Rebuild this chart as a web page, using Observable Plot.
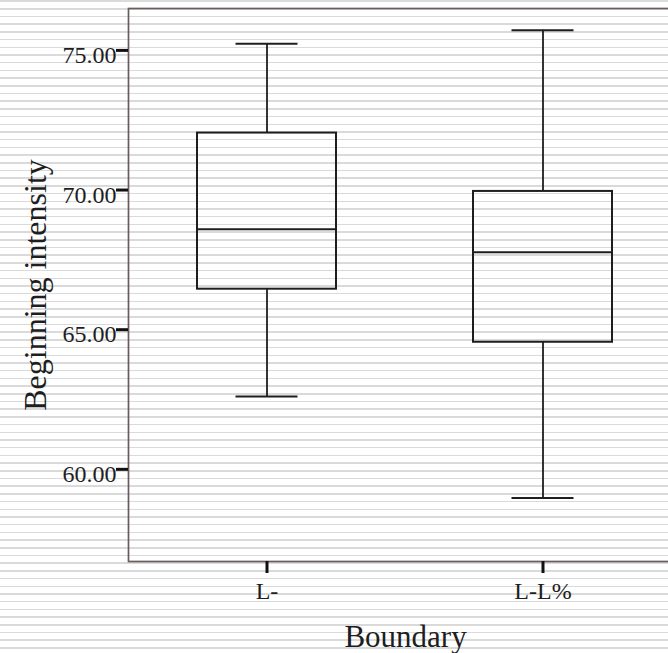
<!DOCTYPE html>
<html>
<head>
<meta charset="utf-8">
<script src="https://cdn.jsdelivr.net/npm/d3@7"></script>
<script src="https://cdn.jsdelivr.net/npm/@observablehq/plot@0.6"></script>
<style>
  html, body { margin: 0; padding: 0; overflow: hidden; }
  body {
    width: 668px; height: 653px;
    background: repeating-linear-gradient(to bottom,
      #ffffff 0px, #ffffff 0.4px,
      #dadada 0.4px, #dadada 1.9px,
      #ffffff 1.9px, #ffffff 7.7px);
  }
  #chart svg { max-width: none !important; font-family: "Liberation Serif", serif !important; }
  #chart svg text { font-family: "Liberation Serif", serif !important; }
</style>
</head>
<body>
<div id="chart"></div>
<script>
const categories = ["L-", "L-L%"];
const minVals    = [62.61, 58.97];
const q1Vals     = [66.45, 64.55];
const medianVals = [68.60, 67.77];
const q3Vals     = [72.04, 69.95];
const maxVals    = [75.24, 75.72];
const yTicks     = [60, 65, 70, 75];

const data = categories.map((c, i) => ({
  c, min: minVals[i], q1: q1Vals[i], med: medianVals[i], q3: q3Vals[i], max: maxVals[i]
}));

const ink = "#1e1e1e";

const chart = Plot.plot({
  width: 684,
  height: 653,
  marginLeft: 128,
  marginRight: 2,
  marginTop: 8,
  marginBottom: 92,
  style: {
    background: "transparent",
    fontFamily: "Liberation Serif",
    fontSize: "24px",
    color: ink,
    overflow: "visible",
    maxWidth: "none"
  },
  x: { type: "band", domain: categories, range: [129, 681], paddingInner: 0.496, paddingOuter: 0.248 },
  y: { domain: [56.7, 76.5] },
  marks: [
    Plot.frame({ stroke: "#6b5c5c", strokeWidth: 1.7 }),
    // y tick marks (no labels)
    Plot.axisY({ ticks: yTicks, tickFormat: () => "", tickSize: 12, tickPadding: 0,
                 stroke: "#111", strokeWidth: 3, label: null }),
    // y tick labels (shifted down slightly, like the reference)
    Plot.axisY({ ticks: yTicks, tickFormat: d3.format(".2f"), tickSize: 0, tickPadding: 12,
                 dy: 5, label: null, fontSize: 24 }),
    Plot.axisX({ tickSize: 12, tickPadding: 8, stroke: "#111", strokeWidth: 3, label: null, fontSize: 24 }),
    // whiskers
    Plot.ruleX(data, { x: "c", y1: "q3", y2: "max", stroke: ink, strokeWidth: 1.8 }),
    Plot.ruleX(data, { x: "c", y1: "min", y2: "q1", stroke: ink, strokeWidth: 1.8 }),
    // caps
    Plot.tickY(data, { x: "c", y: "max", stroke: ink, strokeWidth: 2, insetLeft: 38.5, insetRight: 38.5 }),
    Plot.tickY(data, { x: "c", y: "min", stroke: ink, strokeWidth: 2, insetLeft: 38.5, insetRight: 38.5 }),
    // boxes
    Plot.barY(data, { x: "c", y1: "q1", y2: "q3", fill: "none", stroke: ink, strokeWidth: 2 }),
    // medians
    Plot.tickY(data, { x: "c", y: "med", stroke: ink, strokeWidth: 2 }),
    // titles
    Plot.text(["Boundary"], { frameAnchor: "bottom", dy: 85, lineAnchor: "bottom", textAnchor: "middle", fontSize: 31, fill: ink }),
    Plot.text(["Beginning intensity"], { frameAnchor: "left", dx: -83, rotate: -90, lineAnchor: "bottom", textAnchor: "middle", fontSize: 32, fill: ink })
  ]
});

document.getElementById("chart").appendChild(chart);
</script>
</body>
</html>
